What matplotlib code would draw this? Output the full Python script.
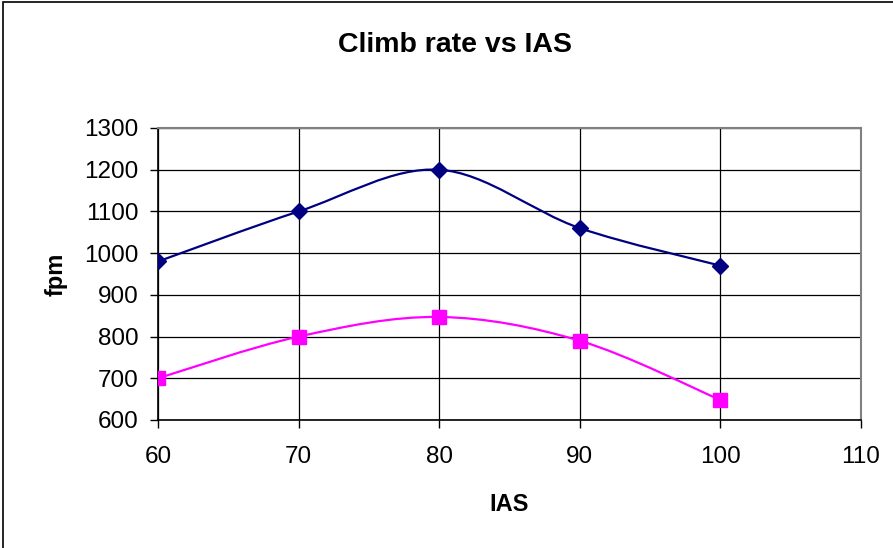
import numpy as np
import matplotlib.pyplot as plt
from matplotlib.path import Path
from matplotlib.patches import PathPatch, Rectangle

# climb rate readings (fpm) against indicated airspeed
ias = [60, 70, 80, 90, 100]
climb_top = [980, 1100, 1200, 1060, 970]
climb_low = [700, 800, 847, 790, 648]

x_ticks = [60, 70, 80, 90, 100, 110]
y_ticks = [600, 700, 800, 900, 1000, 1100, 1200, 1300]

plt.rcParams['font.family'] = ['Liberation Sans', 'DejaVu Sans']


def smooth_path(xs, ys):
    #Excel-like smoothed line: cubic bezier through every point
    pts = np.column_stack([xs, ys]).astype(float)
    ext = np.vstack([pts[0], pts, pts[-1]])
    verts = [pts[0]]
    codes = [Path.MOVETO]
    for i in range(len(pts) - 1):
        p0, p1, p2, p3 = ext[i], ext[i + 1], ext[i + 2], ext[i + 3]
        verts += [p1 + (p2 - p0) / 6, p2 - (p3 - p1) / 6, p2]
        codes += [Path.CURVE4] * 3
    return Path(verts, codes)


fig = plt.figure(figsize=(8.93, 5.48), dpi=100)
ax = fig.add_axes([158 / 893, 1 - 420 / 548, (861 - 158) / 893, (420 - 128) / 548])

for xs, ys, col, mk, ms in [(ias, climb_top, '#000080', 'D', 8),
                            (ias, climb_low, '#FF00FF', 's', 10)]:
    ax.add_patch(PathPatch(smooth_path(xs, ys), fill=False, edgecolor=col, lw=1.6, zorder=3))
    ax.plot(xs, ys, linestyle='none', marker=mk, markersize=ms, color=col, zorder=4)

ax.set_xlim(60, 110)
ax.set_ylim(600, 1300)
ax.set_xticks(x_ticks)
ax.set_yticks(y_ticks)
ax.grid(True, color='black', lw=0.9)
ax.set_axisbelow(True)
ax.tick_params(direction='out', length=6, width=1, labelsize=17.5)
ax.tick_params(axis='y', pad=8)
ax.tick_params(axis='x', pad=13)
for s in ['top', 'right']:
    ax.spines[s].set_color('#808080')
    ax.spines[s].set_linewidth(1.5)
for s in ['left', 'bottom']:
    ax.spines[s].set_color('black')
    ax.spines[s].set_linewidth(1.2)

ax.set_xlabel('IAS', fontsize=17, fontweight='bold', labelpad=18)
ax.set_ylabel('fpm', fontsize=17, fontweight='bold', labelpad=12)
fig.text(455 / 893, 1 - 45 / 548, 'Climb rate vs IAS', fontsize=20.5, fontweight='bold',
         ha='center', va='center')

# chart border
fig.patches.append(Rectangle((3 / 893, -0.1), 1.2, 1 - 2.5 / 548 + 0.1, transform=fig.transFigure,
                             fill=False, edgecolor='black', lw=1.2))

plt.savefig('out.png')
